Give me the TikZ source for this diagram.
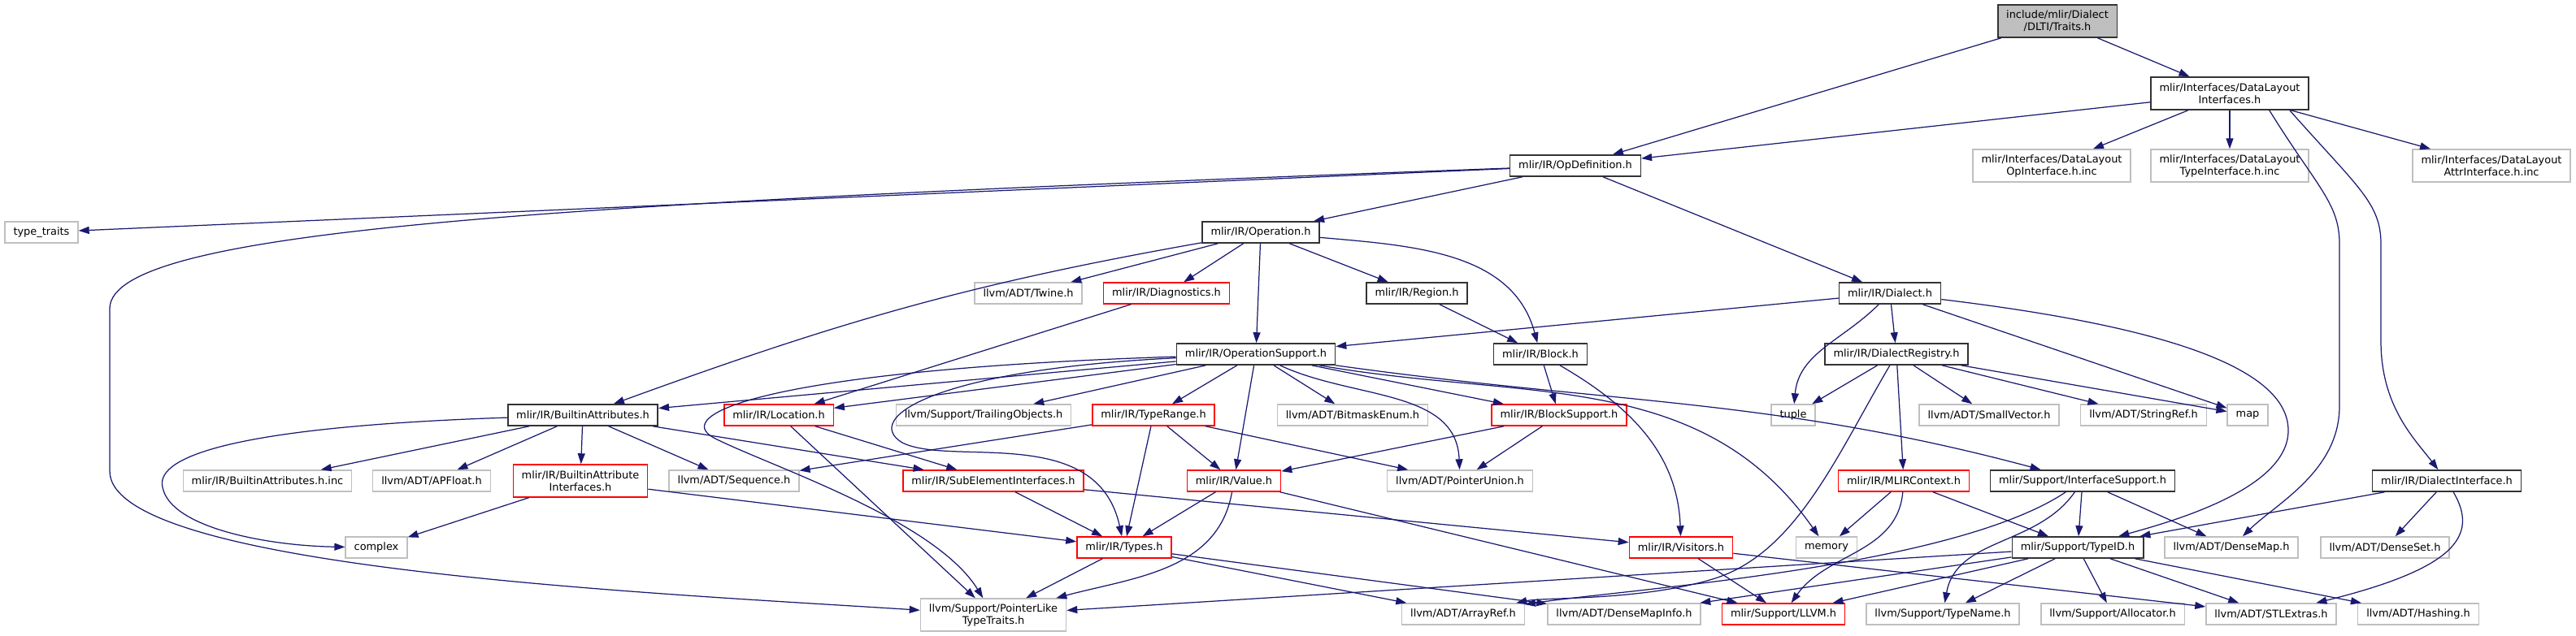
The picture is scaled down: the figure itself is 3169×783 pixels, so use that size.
\documentclass[tikz,border=0pt]{standalone}
\usepackage{fontspec}
\setmainfont{DejaVu Sans}
\usepackage{tikz}
\usetikzlibrary{arrows.meta}
\definecolor{edgeNavy}{HTML}{191970}
\definecolor{srcFill}{HTML}{BFBFBF}
\definecolor{extB}{HTML}{BFBFBF}
\definecolor{truncB}{HTML}{FF0000}
\definecolor{docB}{HTML}{333333}

\begin{document}
\begin{tikzpicture}[x=0.01cm, y=-0.01cm, hdr/.style={draw, rectangle, fill=white, font=\fontsize{3.67}{4.27}\selectfont, align=center, minimum height=0.26cm, inner xsep=0.105cm, inner ysep=0.03cm}, doc/.style={hdr, draw=docB, line width=0.45pt}, ext/.style={hdr, draw=extB, line width=0.4pt}, trunc/.style={hdr, draw=truncB, line width=0.4pt}, srcfile/.style={doc, fill=srcFill}, tall/.style={minimum height=0.40cm}, dep/.style={draw=edgeNavy, line width=0.35pt, -{Triangle[length=0.13cm,width=0.09cm]}}]
\useasboundingbox[fill=white] (0,0) rectangle (3169,783);
\node[srcfile, tall] (traits) at (2531,26) {include/mlir/Dialect\\/DLTI/Traits.h};
\node[doc, tall] (dli) at (2743,115) {mlir/Interfaces/DataLayout\\Interfaces.h};
\node[doc] (opdef) at (1938,204) {mlir/IR/OpDefinition.h};
\node[ext, tall] (opinc) at (2524,204) {mlir/Interfaces/DataLayout\\OpInterface.h.inc};
\node[ext, tall] (typeinc) at (2743,204) {mlir/Interfaces/DataLayout\\TypeInterface.h.inc};
\node[ext, tall] (attrinc) at (3065,204) {mlir/Interfaces/DataLayout\\AttrInterface.h.inc};
\node[ext] (typetraits) at (51,286) {type\_traits};
\node[doc] (operation) at (1551,286) {mlir/IR/Operation.h};
\node[ext] (twine) at (1265,361) {llvm/ADT/Twine.h};
\node[trunc] (diag) at (1435,361) {mlir/IR/Diagnostics.h};
\node[doc] (region) at (1743,361) {mlir/IR/Region.h};
\node[doc] (dialect) at (2325,361) {mlir/IR/Dialect.h};
\node[doc] (opsupport) at (1545,436) {mlir/IR/OperationSupport.h};
\node[doc] (block) at (1895,436) {mlir/IR/Block.h};
\node[doc] (registry) at (2333,436) {mlir/IR/DialectRegistry.h};
\node[doc] (battr) at (717,511) {mlir/IR/BuiltinAttributes.h};
\node[trunc] (location) at (958,511) {mlir/IR/Location.h};
\node[ext] (trailing) at (1210,511) {llvm/Support/TrailingObjects.h};
\node[trunc] (typerange) at (1419,511) {mlir/IR/TypeRange.h};
\node[ext] (bitmask) at (1664,511) {llvm/ADT/BitmaskEnum.h};
\node[trunc] (blocksupport) at (1918,511) {mlir/IR/BlockSupport.h};
\node[ext] (tuple) at (2206,511) {tuple};
\node[ext] (smallvec) at (2447,511) {llvm/ADT/SmallVector.h};
\node[ext] (stringref) at (2637,511) {llvm/ADT/StringRef.h};
\node[ext] (map) at (2765,511) {map};
\node[ext] (bainc) at (329,592) {mlir/IR/BuiltinAttributes.h.inc};
\node[ext] (apfloat) at (531,592) {llvm/ADT/APFloat.h};
\node[trunc, tall] (baiface) at (714,592) {mlir/IR/BuiltinAttribute\\Interfaces.h};
\node[ext] (sequence) at (903,592) {llvm/ADT/Sequence.h};
\node[trunc] (subelem) at (1222,592) {mlir/IR/SubElementInterfaces.h};
\node[trunc] (value) at (1518,592) {mlir/IR/Value.h};
\node[ext] (ptrunion) at (1796,592) {llvm/ADT/PointerUnion.h};
\node[trunc] (mlirctx) at (2342,592) {mlir/IR/MLIRContext.h};
\node[doc] (ifacesupp) at (2562,592) {mlir/Support/InterfaceSupport.h};
\node[doc] (dialiface) at (3010,592) {mlir/IR/DialectInterface.h};
\node[ext] (complex) at (463,674) {complex};
\node[trunc] (types) at (1383,674) {mlir/IR/Types.h};
\node[trunc] (visitors) at (2068,674) {mlir/IR/Visitors.h};
\node[ext] (memory) at (2247,674) {memory};
\node[doc] (typeid) at (2556,674) {mlir/Support/TypeID.h};
\node[ext] (densemap) at (2745,674) {llvm/ADT/DenseMap.h};
\node[ext] (denseset) at (2934,674) {llvm/ADT/DenseSet.h};
\node[ext, tall] (ptrlike) at (1222,757) {llvm/Support/PointerLike\\TypeTraits.h};
\node[ext] (arrayref) at (1800,756) {llvm/ADT/ArrayRef.h};
\node[ext] (densemapinfo) at (1998,756) {llvm/ADT/DenseMapInfo.h};
\node[trunc] (llvm) at (2194,756) {mlir/Support/LLVM.h};
\node[ext] (typename) at (2390,756) {llvm/Support/TypeName.h};
\node[ext] (allocator) at (2599,756) {llvm/Support/Allocator.h};
\node[ext] (stlextras) at (2794,756) {llvm/ADT/STLExtras.h};
\node[ext] (hashing) at (2975,756) {llvm/ADT/Hashing.h};
\draw[dep] (traits) -- (opdef);
\draw[dep] (traits) -- (dli);
\draw[dep] (dli) -- (opdef);
\draw[dep] (dli) -- (opinc);
\draw[dep] (dli) -- (typeinc);
\draw[dep] (dli) -- (attrinc);
\draw[dep] ([xshift=-0.49cm]dli.south east) .. controls (2850,230) and (2878,250) .. (2878,300) -- (2878,500) .. controls (2878,580) and (2800,620) .. (densemap);
\draw[dep] ([xshift=-0.24cm]dli.south east) .. controls (2900,230) and (2929,250) .. (2929,300) -- (2929,420) .. controls (2929,500) and (2970,540) .. (dialiface);
\draw[dep] (opdef) -- (typetraits);
\draw[dep] (opdef) .. controls (700,250) and (135,280) .. (135,380) -- (135,580) .. controls (135,700) and (800,730) .. (ptrlike);
\draw[dep] (opdef) -- (operation);
\draw[dep] (opdef) -- (dialect);
\draw[dep] (operation) to[out=190,in=20] (battr);
\draw[dep] (operation) -- (twine);
\draw[dep] (operation) -- (diag);
\draw[dep] (operation) -- (opsupport);
\draw[dep] (operation) -- (region);
\draw[dep] (operation) to[out=-5,in=105] (block);
\draw[dep] (diag) -- (location);
\draw[dep] (region) -- (block);
\draw[dep] (dialect) -- (opsupport);
\draw[dep] (dialect) to[out=-135,in=85] (tuple);
\draw[dep] (dialect) -- (registry);
\draw[dep] (dialect) -- (map);
\draw[dep] (dialect) .. controls (2650,400) and (2815,450) .. (2815,530) .. controls (2815,600) and (2680,640) .. (typeid);
\draw[dep] (registry) -- (tuple);
\draw[dep] (registry) -- (smallvec);
\draw[dep] (registry) -- (stringref);
\draw[dep] (registry) -- (map);
\draw[dep] (registry) -- (mlirctx);
\draw[dep] (registry) .. controls (2260,560) and (2210,680) .. (2110,712) .. controls (2020,740) and (1900,735) .. (arrayref);
\draw[dep] (opsupport) -- (battr);
\draw[dep] (opsupport) -- (location);
\draw[dep] (opsupport) -- (trailing);
\draw[dep] (opsupport) -- (typerange);
\draw[dep] (opsupport) -- (bitmask);
\draw[dep] (opsupport) -- (blocksupport);
\draw[dep] (opsupport) -- (value);
\draw[dep] (opsupport) to[out=-25,in=92] (ptrunion);
\draw[dep] (opsupport) to[out=-10,in=125] (memory);
\draw[dep] (opsupport) to[out=-8,in=165] (ifacesupp);
\draw[dep] (opsupport) .. controls (1150,455) and (1060,515) .. (1110,545) .. controls (1170,575) and (1350,520) .. (types);
\draw[dep] (opsupport) .. controls (950,455) and (820,510) .. (880,540) .. controls (950,575) and (1150,640) .. (ptrlike);
\draw[dep] (block) -- (blocksupport);
\draw[dep] (block) to[out=-30,in=92] (visitors);
\draw[dep] (battr) .. controls (300,525) and (190,560) .. (200,600) .. controls (210,650) and (330,672) .. (complex);
\draw[dep] (battr) -- (bainc);
\draw[dep] (battr) -- (apfloat);
\draw[dep] (battr) -- (baiface);
\draw[dep] (battr) -- (sequence);
\draw[dep] (battr) -- (subelem);
\draw[dep] (location) -- (subelem);
\draw[dep] (location) -- (ptrlike);
\draw[dep] (typerange) -- (sequence);
\draw[dep] (typerange) -- (types);
\draw[dep] (typerange) -- (value);
\draw[dep] (typerange) -- (ptrunion);
\draw[dep] (blocksupport) -- (value);
\draw[dep] (blocksupport) -- (ptrunion);
\draw[dep] (baiface) -- (complex);
\draw[dep] (baiface) -- (types);
\draw[dep] (subelem) -- (types);
\draw[dep] (subelem) -- (visitors);
\draw[dep] (value) -- (types);
\draw[dep] (value) to[out=-100,in=15] (ptrlike);
\draw[dep] (value) -- (llvm);
\draw[dep] (mlirctx) -- (memory);
\draw[dep] (mlirctx) -- (typeid);
\draw[dep] (mlirctx) to[out=-95,in=55] (llvm);
\draw[dep] (ifacesupp) -- (typeid);
\draw[dep] (ifacesupp) -- (densemap);
\draw[dep] (ifacesupp) to[out=-125,in=80] (typename);
\draw[dep] (ifacesupp) .. controls (2400,700) and (2000,725) .. (arrayref);
\draw[dep] (dialiface) -- (typeid);
\draw[dep] (dialiface) -- (denseset);
\draw[dep] (dialiface) .. controls (3050,660) and (3020,700) .. (stlextras);
\draw[dep] (types) -- (ptrlike);
\draw[dep] (types) -- (arrayref);
\draw[dep] (types) -- (densemapinfo);
\draw[dep] (visitors) -- (llvm);
\draw[dep] (visitors) -- (stlextras);
\draw[dep] (typeid) -- (ptrlike);
\draw[dep] (typeid) -- (llvm);
\draw[dep] (typeid) -- (densemapinfo);
\draw[dep] (typeid) -- (typename);
\draw[dep] (typeid) -- (allocator);
\draw[dep] (typeid) -- (stlextras);
\draw[dep] (typeid) -- (hashing);
\end{tikzpicture}
\end{document}
